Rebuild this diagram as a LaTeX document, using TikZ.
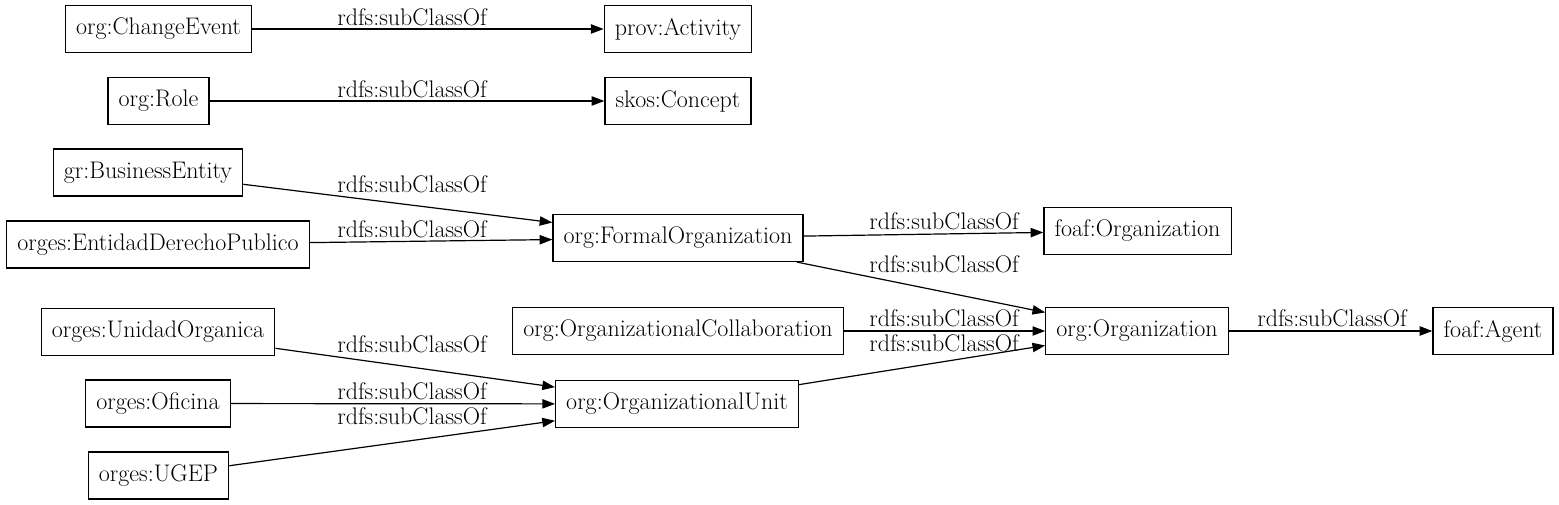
\documentclass[tikz,border=0pt]{standalone}
\usepackage{tikz}
\usetikzlibrary{arrows.meta}

\begin{document}
\begin{tikzpicture}[x=0.75pt, y=-0.75pt,
    cls/.style={draw, line width=0.9pt, minimum height=35.25pt, inner xsep=8pt,
      font=\fontsize{18}{22}\selectfont},
    rel/.style={draw, line width=0.9pt, -{Triangle[length=9.5pt, width=7pt]}},
    lbl/.style={inner sep=0pt, font=\fontsize{18}{22}\selectfont}]
  \useasboundingbox (0,0) rectangle (1559,505);
  % classes, left column
  \node[cls] (changeEvent) at (158.5, 29) {org:ChangeEvent};
  \node[cls] (role) at (158.5, 101) {org:Role};
  \node[cls] (business) at (148, 172.5) {gr:BusinessEntity};
  \node[cls] (entidad) at (158, 244.5) {orges:EntidadDerechoPublico};
  \node[cls] (unidad) at (158, 332) {orges:UnidadOrganica};
  \node[cls] (oficina) at (158, 403.5) {orges:Oficina};
  \node[cls] (ugep) at (158.5, 475.5) {orges:UGEP};
  % classes, middle column
  \node[cls] (activity) at (678, 29) {prov:Activity};
  \node[cls] (concept) at (678, 101) {skos:Concept};
  \node[cls] (formalOrg) at (678, 238) {org:FormalOrganization};
  \node[cls] (collab) at (678, 331) {org:OrganizationalCollaboration};
  \node[cls] (orgUnit) at (677, 404) {org:OrganizationalUnit};
  % classes, right
  \node[cls] (foafOrg) at (1137.5, 231) {foaf:Organization};
  \node[cls] (organization) at (1137, 331) {org:Organization};
  \node[cls] (agent) at (1493, 331) {foaf:Agent};
  % subclass links
  \draw[rel] (changeEvent) -- (activity);
  \draw[rel] (role) -- (concept);
  \draw[rel] (business) -- (formalOrg);
  \draw[rel] (entidad) -- (formalOrg);
  \draw[rel] (unidad) -- (orgUnit);
  \draw[rel] (oficina) -- (orgUnit);
  \draw[rel] (ugep) -- (orgUnit);
  \draw[rel] (formalOrg) -- (foafOrg);
  \draw[rel] (formalOrg) -- (organization);
  \draw[rel] (collab) -- (organization);
  \draw[rel] (orgUnit) -- (organization);
  \draw[rel] (organization) -- (agent);
  % link labels
  \node[lbl] (lbChange) at (412, 17) {rdfs:subClassOf};
  \node[lbl] (lbRole) at (412, 89) {rdfs:subClassOf};
  \node[lbl] (lbBusiness) at (412, 184) {rdfs:subClassOf};
  \node[lbl] (lbEntidad) at (412, 229) {rdfs:subClassOf};
  \node[lbl] (lbUnidad) at (412, 344) {rdfs:subClassOf};
  \node[lbl] (lbOficina) at (412, 391) {rdfs:subClassOf};
  \node[lbl] (lbUgep) at (412, 416) {rdfs:subClassOf};
  \node[lbl] (lbFoafOrg) at (944, 221) {rdfs:subClassOf};
  \node[lbl] (lbFormal) at (944, 264) {rdfs:subClassOf};
  \node[lbl] (lbCollab) at (944, 318) {rdfs:subClassOf};
  \node[lbl] (lbUnit) at (944, 343) {rdfs:subClassOf};
  \node[lbl] (lbAgent) at (1332, 318) {rdfs:subClassOf};
\end{tikzpicture}
\end{document}
